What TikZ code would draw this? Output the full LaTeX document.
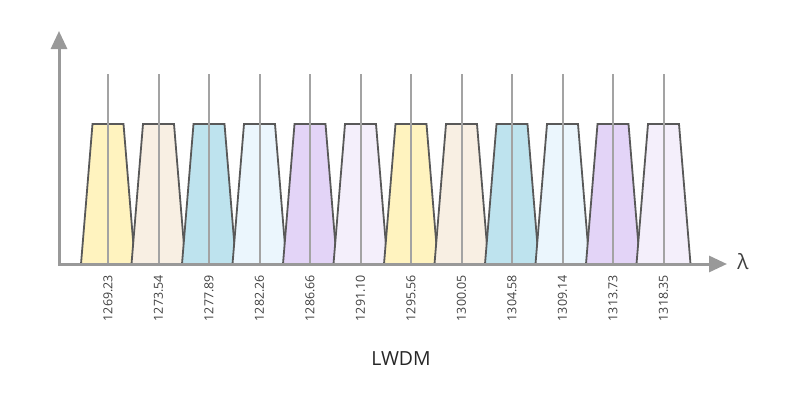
\documentclass[tikz,border=0pt]{standalone}
\usepackage{fontspec}
\setmainfont{Open Sans}
\usepackage{tikz}
\usetikzlibrary{arrows.meta}
\definecolor{chyellow}{HTML}{FFF3BF}
\definecolor{chbeige}{HTML}{F8EFE3}
\definecolor{chblue}{HTML}{BEE3EE}
\definecolor{chsky}{HTML}{EBF6FD}
\definecolor{chviolet}{HTML}{E3D4F7}
\definecolor{chlilac}{HTML}{F4EFFB}
\tikzset{channel style/.style = {%
  draw = black!65,
  line width = 1.8bp,
  line join = miter
 },
 axis style/.style = {
  draw = black!40,
  line width = 3bp,
  {Triangle[length=18bp,width=16bp]}-{Triangle[length=18bp,width=16bp]}
 },
 marker style/.style = {
  draw = black!36,
  line width = 2bp
 },
 wave label/.style = {
  rotate = 90,
  anchor = east,
  inner sep = 0pt,
  text = black!75,
  font = \fontsize{12.5}{14}\selectfont
 }
}

\begin{document}
\begin{tikzpicture}[x=1bp,y=1bp]
      \useasboundingbox (0,0) rectangle (800,395);
      \coordinate (O) at (59,131);
      \coordinate (Y) at (59,364);
      \coordinate (X) at (727,131);

      \foreach \wl/\col [count=\i from 0] in {1269.23/chyellow,1273.54/chbeige,
        1277.89/chblue,1282.26/chsky,1286.66/chviolet,1291.10/chlilac,
        1295.56/chyellow,1300.05/chbeige,1304.58/chblue,1309.14/chsky,
        1313.73/chviolet,1318.35/chlilac}{
        \pgfmathsetmacro\cx{108+50.5*\i}
        \coordinate (foot\i) at (\cx,131);
        \coordinate (top\i) at (\cx,321);
        \filldraw[channel style, fill=\col] (\cx-27,131) -- (\cx-15.5,271)
          -- (\cx+15.5,271) -- (\cx+27,131);
        \draw[marker style] (foot\i) -- (top\i);
        \node[wave label] (lab\i) at (\cx,120) {\wl};
      }

      \draw[axis style] (Y) -- (O) -- (X);
      \node[font=\fontsize{21}{23}\selectfont, text=black!75] (lambda) at (743,133) {λ};
      \node[font=\fontsize{19.5}{22}\selectfont, text=black!85] (title) at (401,36) {LWDM};
\end{tikzpicture}
\end{document}
